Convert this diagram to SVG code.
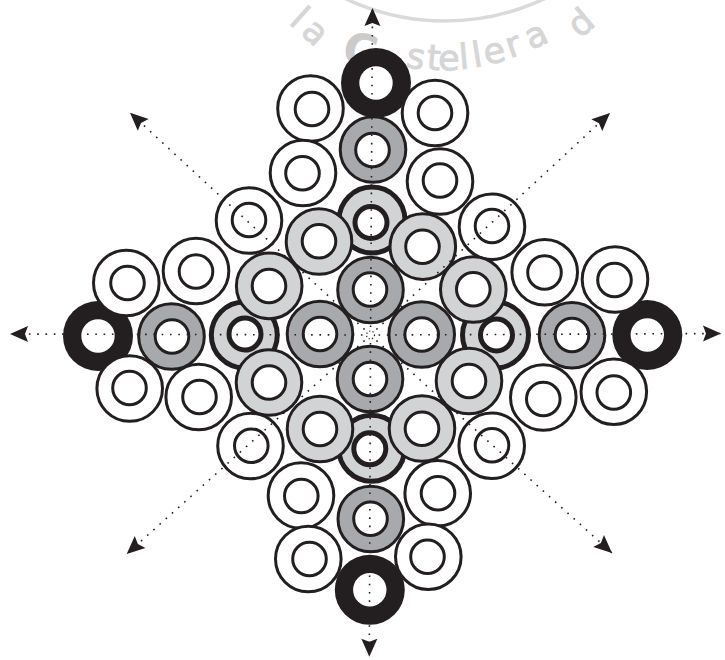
<svg xmlns="http://www.w3.org/2000/svg" width="725" height="660" viewBox="0 0 725 660">
<style>
.wm{font-family:"DejaVu Sans","Liberation Sans",sans-serif;font-size:35px;fill:#d6d6d6;stroke:#d6d6d6;stroke-width:0.9}
.wmC{font-weight:bold;font-size:46px;fill:#cbcbcb;stroke:none}
.wmArc{fill:none;stroke:#dadada;stroke-width:3.5}
.o{stroke:#231f20;stroke-width:3}
.i{fill:#fff;stroke:#231f20;stroke-width:3}
.w .o{fill:#fff}
.dg .o{fill:#a7a9ac}
.lg .o{fill:#d1d3d4}
.sp .o{fill:#d1d3d4;stroke-width:5}
.sp .i{stroke-width:5}
.bk .o{fill:#231f20;stroke:none}
.bk .i{stroke:none}
.dots{fill:none;stroke:#231f20;stroke-width:1.6;stroke-dasharray:1.6 6.7}
.ray{marker-end:url(#ah)}
</style>
<defs>
<marker id="ah" markerUnits="userSpaceOnUse" markerWidth="20" markerHeight="20" viewBox="-19 -9 20 18" refX="0" refY="0" orient="auto">
<path d="M0,0 L-18,-8 L-15,0 L-18,8 Z" fill="#231f20"/>
</marker>
</defs>
<rect width="725" height="660" fill="#fff"/>
<g id="watermark">
<circle class="wmArc" cx="445" cy="-212" r="233"/>
<text class="wm" x="288" y="23" letter-spacing="6" transform="rotate(42 288 23)">la</text>
<text class="wm wmC" x="340" y="62" transform="rotate(14 340 62)">C</text>
<text class="wm" x="405 426 438 460 474 486 510 531" y="66.7 69.2 70 69.2 67.5 65.1 58.3 50.2" rotate="10 5 1 -5 -9 -12 -19 -25">stellera</text>
<text class="wm" x="580" y="39" transform="rotate(-40 580 39)">d</text>
</g>
<g id="black-positions">
<g id="b-top" class="bk"><circle class="o" cx="376" cy="83" r="35"/><circle class="i" cx="376" cy="83" r="16.7"/></g>
<g id="b-left" class="bk"><circle class="o" cx="98" cy="336" r="35"/><circle class="i" cx="98" cy="336" r="16.7"/></g>
<g id="b-right" class="bk"><circle class="o" cx="647.3" cy="335" r="35"/><circle class="i" cx="647.3" cy="335" r="16.7"/></g>
<g id="b-bottom" class="bk"><circle class="o" cx="369.8" cy="589.8" r="35"/><circle class="i" cx="369.8" cy="589.8" r="16.7"/></g>
</g>
<g id="white-positions">
<g id="w1" class="w"><circle class="o" cx="310.5" cy="108.5" r="32.8"/><circle class="i" cx="312" cy="109" r="16.8"/></g>
<g id="w2" class="w"><circle class="o" cx="435" cy="113" r="32.8"/><circle class="i" cx="435" cy="113" r="16.8"/></g>
<g id="w3" class="w"><circle class="o" cx="303" cy="173" r="32.8"/><circle class="i" cx="302.5" cy="173.3" r="16.8"/></g>
<g id="w4" class="w"><circle class="o" cx="440" cy="181.5" r="32.8"/><circle class="i" cx="440" cy="180.5" r="16.8"/></g>
<g id="w5" class="w"><circle class="o" cx="249" cy="220.5" r="32.8"/><circle class="i" cx="249" cy="220" r="16.8"/></g>
<g id="w6" class="w"><circle class="o" cx="492" cy="226.7" r="32.8"/><circle class="i" cx="492" cy="226" r="16.8"/></g>
<g id="w7" class="w"><circle class="o" cx="126.3" cy="283" r="32.8"/><circle class="i" cx="127.5" cy="283" r="16.8"/></g>
<g id="w8" class="w"><circle class="o" cx="196" cy="271" r="32.8"/><circle class="i" cx="196" cy="271.5" r="16.8"/></g>
<g id="w9" class="w"><circle class="o" cx="544.7" cy="272.3" r="32.8"/><circle class="i" cx="544.5" cy="272.5" r="16.8"/></g>
<g id="w10" class="w"><circle class="o" cx="615" cy="279.5" r="32.8"/><circle class="i" cx="614.5" cy="280" r="16.8"/></g>
<g id="w11" class="w"><circle class="o" cx="129.7" cy="388.5" r="32.8"/><circle class="i" cx="129.5" cy="388" r="16.8"/></g>
<g id="w12" class="w"><circle class="o" cx="198.7" cy="397" r="32.8"/><circle class="i" cx="199.5" cy="397" r="16.8"/></g>
<g id="w13" class="w"><circle class="o" cx="543.3" cy="397.5" r="32.8"/><circle class="i" cx="543.3" cy="399" r="16.8"/></g>
<g id="w14" class="w"><circle class="o" cx="613.8" cy="391.7" r="32.8"/><circle class="i" cx="613.8" cy="392.5" r="16.8"/></g>
<g id="w15" class="w"><circle class="o" cx="250.5" cy="446" r="32.8"/><circle class="i" cx="251.3" cy="445.7" r="16.8"/></g>
<g id="w16" class="w"><circle class="o" cx="491.7" cy="445.7" r="32.8"/><circle class="i" cx="492" cy="445.3" r="16.8"/></g>
<g id="w17" class="w"><circle class="o" cx="301" cy="495.5" r="32.8"/><circle class="i" cx="301.3" cy="496" r="16.8"/></g>
<g id="w18" class="w"><circle class="o" cx="437.7" cy="493.3" r="32.8"/><circle class="i" cx="438" cy="493.3" r="16.8"/></g>
<g id="w19" class="w"><circle class="o" cx="308.3" cy="559" r="32.8"/><circle class="i" cx="309.5" cy="559" r="16.8"/></g>
<g id="w20" class="w"><circle class="o" cx="428.3" cy="556.7" r="32.8"/><circle class="i" cx="427.5" cy="556.7" r="16.8"/></g>
</g>
<g id="special-positions">
<g id="s-top" class="sp"><circle class="o" cx="372" cy="220" r="33"/><circle class="i" cx="371" cy="222.5" r="16"/></g>
<g id="s-bottom" class="sp"><circle class="o" cx="371.7" cy="448.3" r="33"/><circle class="i" cx="369.8" cy="448.8" r="16"/></g>
<g id="s-left" class="sp"><circle class="o" cx="244.3" cy="335" r="33"/><circle class="i" cx="245" cy="334" r="16"/></g>
<g id="s-right" class="sp"><circle class="o" cx="495.5" cy="335" r="33"/><circle class="i" cx="496.5" cy="335" r="16"/></g>
</g>
<g id="light-grey-positions">
<g id="l1" class="lg"><circle class="o" cx="319" cy="241.5" r="32.8"/><circle class="i" cx="319" cy="241.3" r="16.8"/></g>
<g id="l2" class="lg"><circle class="o" cx="422.8" cy="246.6" r="32.8"/><circle class="i" cx="422.5" cy="246.7" r="16.8"/></g>
<g id="l3" class="lg"><circle class="o" cx="269.2" cy="285.9" r="32.8"/><circle class="i" cx="269" cy="286" r="16.8"/></g>
<g id="l4" class="lg"><circle class="o" cx="473.3" cy="289.5" r="32.8"/><circle class="i" cx="473.3" cy="289.2" r="16.8"/></g>
<g id="l5" class="lg"><circle class="o" cx="269" cy="382.5" r="32.8"/><circle class="i" cx="269" cy="382.5" r="16.8"/></g>
<g id="l6" class="lg"><circle class="o" cx="469" cy="381" r="32.8"/><circle class="i" cx="469" cy="381" r="16.8"/></g>
<g id="l7" class="lg"><circle class="o" cx="320" cy="429" r="32.8"/><circle class="i" cx="320" cy="429" r="16.8"/></g>
<g id="l8" class="lg"><circle class="o" cx="422" cy="428.5" r="32.8"/><circle class="i" cx="422" cy="428.7" r="16.8"/></g>
</g>
<g id="dark-grey-positions">
<g id="d-top2" class="dg"><circle class="o" cx="373" cy="149.5" r="32.8"/><circle class="i" cx="372.5" cy="150" r="16.8"/></g>
<g id="d-top1" class="dg"><circle class="o" cx="370.5" cy="290" r="32.8"/><circle class="i" cx="370" cy="289.5" r="16.8"/></g>
<g id="d-bottom1" class="dg"><circle class="o" cx="370" cy="379" r="32.8"/><circle class="i" cx="370" cy="379" r="16.8"/></g>
<g id="d-left1" class="dg"><circle class="o" cx="320" cy="334" r="32.8"/><circle class="i" cx="320" cy="334" r="16.8"/></g>
<g id="d-right1" class="dg"><circle class="o" cx="421.7" cy="334.5" r="32.8"/><circle class="i" cx="421.7" cy="334.5" r="16.8"/></g>
<g id="d-left2" class="dg"><circle class="o" cx="171.5" cy="336.5" r="32.8"/><circle class="i" cx="172" cy="336.5" r="16.8"/></g>
<g id="d-right2" class="dg"><circle class="o" cx="572" cy="335.3" r="32.8"/><circle class="i" cx="572" cy="335" r="16.8"/></g>
<g id="d-bottom2" class="dg"><circle class="o" cx="370.8" cy="519" r="32.8"/><circle class="i" cx="370.5" cy="518.7" r="16.8"/></g>
</g>
<g id="connectors">
<circle class="dots" cx="370.5" cy="335" r="4" style="stroke-dasharray:1.2 2.2;stroke-width:1.2"/>
<line class="dots ray" x1="370.6" y1="327" x2="372.5" y2="8"/>
<line class="dots ray" x1="370.5" y1="343" x2="369.3" y2="656.7"/>
<line class="dots ray" x1="362.5" y1="335" x2="10" y2="334"/>
<line class="dots ray" x1="378.5" y1="335" x2="721" y2="333.5"/>
<line class="dots ray" x1="364.6" y1="329.5" x2="130" y2="112.7"/>
<line class="dots ray" x1="376.4" y1="329.5" x2="610" y2="113"/>
<line class="dots ray" x1="364.6" y1="340.5" x2="126.7" y2="554"/>
<line class="dots ray" x1="376.4" y1="340.5" x2="612" y2="553"/>
</g>
</svg>
